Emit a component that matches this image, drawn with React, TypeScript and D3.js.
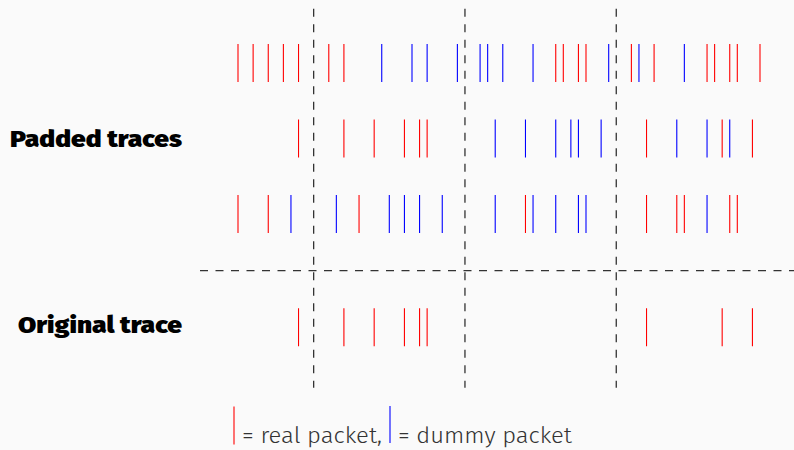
import { useEffect, useRef } from 'react';
import * as d3 from 'd3';

// packet times (slot index) per trace
const row1Real = [0, 2, 4, 6, 8, 12, 14, 42, 43, 45, 46, 52, 55, 62, 63, 65, 66, 69];
const row1Dummy = [19, 23, 25, 29, 32, 33, 35, 39, 49, 53, 59];
const row2Real = [8, 14, 18, 22, 24, 25, 54, 64, 68];
const row2Dummy = [34, 38, 42, 44, 45, 48, 58, 62, 65];
const row3Real = [0, 4, 16, 38, 54, 58, 59, 65, 66];
const row3Dummy = [7, 13, 20, 22, 24, 27, 34, 39, 42, 45, 46, 62];
const origReal = [8, 14, 18, 22, 24, 25, 54, 64, 68];
const origDummy: number[] = [];

const boundaries = [10, 30, 50];
const rowLabels = ['Padded traces', 'Original trace'];

const W = 794;
const H = 450;
const RED = '#ff0000';
const BLUE = '#0000ff';

export default function App() {
  const ref = useRef<SVGSVGElement | null>(null);

  useEffect(() => {
    const svg = d3.select(ref.current);
    svg.selectAll('*').remove();

    svg.append('rect').attr('width', W).attr('height', H).attr('fill', '#fafafa');

    const x = d3.scaleLinear().domain([0, 69]).range([238, 760]);
    const y = d3.scaleLinear().domain([0, 1]).range([63, 138.5]);
    const half = 19;

    const rows = [
      { pos: 0, real: row1Real, dummy: row1Dummy },
      { pos: 1, real: row2Real, dummy: row2Dummy },
      { pos: 2, real: row3Real, dummy: row3Dummy },
      { pos: 3.5, real: origReal, dummy: origDummy },
    ];

    // dashed guides
    const guides = svg.append('g').attr('stroke', '#333').attr('stroke-width', 1.3)
      .attr('stroke-dasharray', '8 7.5');
    guides.selectAll('line.v')
      .data(boundaries)
      .join('line')
      .attr('class', 'v')
      .attr('x1', d => x(d)).attr('x2', d => x(d))
      .attr('y1', y(-0.72)).attr('y2', y(4.3));
    guides.append('line')
      .attr('x1', 200).attr('x2', W)
      .attr('y1', y(2.75)).attr('y2', y(2.75));

    // packets
    rows.forEach(r => {
      const g = svg.append('g').attr('stroke-width', 1.1);
      const cy = y(r.pos);
      g.selectAll('line.r')
        .data(r.real)
        .join('line')
        .attr('class', 'r')
        .attr('stroke', RED)
        .attr('x1', d => x(d)).attr('x2', d => x(d))
        .attr('y1', cy - half).attr('y2', cy + half);
      g.selectAll('line.b')
        .data(r.dummy)
        .join('line')
        .attr('class', 'b')
        .attr('stroke', BLUE)
        .attr('x1', d => x(d)).attr('x2', d => x(d))
        .attr('y1', cy - half).attr('y2', cy + half);
    });

    // row labels
    const labelFont = "'Fira Sans', Lato, 'Open Sans', sans-serif";
    svg.append('text')
      .attr('x', 182).attr('y', 146.5)
      .attr('text-anchor', 'end')
      .attr('font-family', labelFont).attr('font-weight', 900)
      .attr('font-size', 23.5)
      .attr('textLength', 172).attr('lengthAdjust', 'spacingAndGlyphs')
      .attr('fill', '#000')
      .text(rowLabels[0]);
    svg.append('text')
      .attr('x', 182).attr('y', 333)
      .attr('text-anchor', 'end')
      .attr('font-family', labelFont).attr('font-weight', 900)
      .attr('font-size', 23.5)
      .attr('textLength', 164).attr('lengthAdjust', 'spacingAndGlyphs')
      .attr('fill', '#000')
      .text(rowLabels[1]);

    // legend
    const leg = svg.append('g');
    leg.append('line').attr('stroke', RED).attr('stroke-width', 1.1)
      .attr('x1', 234).attr('x2', 234).attr('y1', 406.5).attr('y2', 444.5);
    leg.append('line').attr('stroke', BLUE).attr('stroke-width', 1.1)
      .attr('x1', 390).attr('x2', 390).attr('y1', 406).attr('y2', 443);
    const legFont = "'Fira Sans', 'Open Sans', sans-serif";
    leg.append('text')
      .attr('x', 242).attr('y', 443)
      .attr('font-family', legFont).attr('font-weight', 300).attr('font-size', 22)
      .attr('fill', '#333')
      .attr('textLength', 140).attr('lengthAdjust', 'spacingAndGlyphs')
      .text('= real packet,');
    leg.append('text')
      .attr('x', 398).attr('y', 443)
      .attr('font-family', legFont).attr('font-weight', 300).attr('font-size', 22)
      .attr('fill', '#333')
      .attr('textLength', 174).attr('lengthAdjust', 'spacingAndGlyphs')
      .text('= dummy packet');
  }, []);

  return (
    <svg
      ref={ref}
      width={W}
      height={H}
      style={{ position: 'fixed', left: 0, top: 0 }}
    ></svg>
  );
}
